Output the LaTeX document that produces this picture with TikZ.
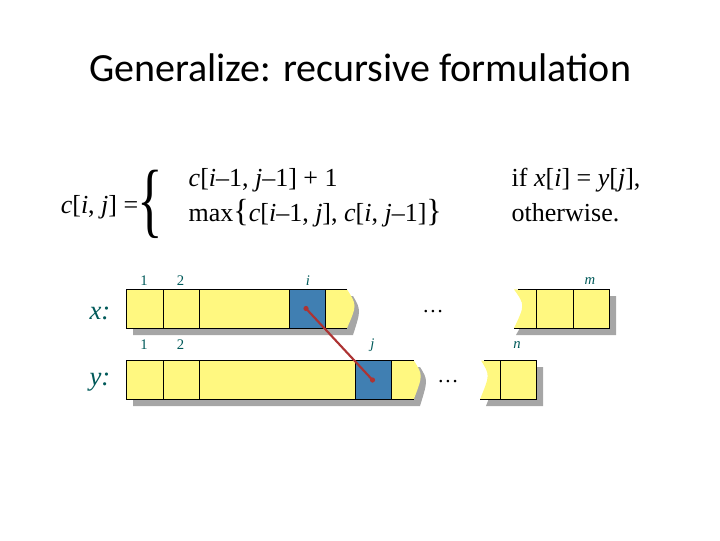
\documentclass[tikz,border=0pt]{standalone}
\usepackage{fontspec}
\setmainfont{Liberation Serif}
\newfontfamily\titlefont{Carlito}
\begin{document}
\begin{tikzpicture}[x=0.75pt,y=-0.75pt,
  lab/.style={text=teal!70!black,font=\fontsize{11}{12}\selectfont},
  arr/.style={text=teal!70!black,font=\itshape\fontsize{20}{22}\selectfont},
  body/.style={font=\fontsize{19.5}{22}\selectfont,anchor=west},
  yel/.style={fill=yellow!50},
  sh/.style={fill=gray!70}]
\useasboundingbox (0,0) rectangle (720,540);
\node[font=\titlefont\fontsize{30}{34}\selectfont] (title) at (360,68) {Generalize: recursive formulation};
\node[body,anchor=east] (lhs) at (143,207) {\textit{c}[\textit{i}, \textit{j}] =};
\node (br) at (150,204) {\scalebox{1}[1.55]{\fontsize{40}{40}\selectfont\{}};
\node[body] (l1) at (184,180) {\textit{c}[\textit{i}–1, \textit{j}–1] + 1};
\node[body] (l2) at (184,213) {max{\fontsize{24}{24}\selectfont\{}\textit{c}[\textit{i}–1, \textit{j}], \textit{c}[\textit{i}, \textit{j}–1]{\fontsize{24}{24}\selectfont\}}};
\node[body] (c1) at (507,180) {if \textit{x}[\textit{i}] = \textit{y}[\textit{j}],};
\node[body] (c2) at (507,213) {otherwise.};
% x array
\fill[sh] (133,296) -- (353,296) .. controls (361,310) .. (353,335) -- (133,335) -- cycle;
\fill[sh] (520,296) .. controls (530,310) .. (516,335) -- (616,335) -- (616,296) -- cycle;
\fill[yel] (126.7,289.4) -- (347,289.4) .. controls (357,305) .. (347,328.2) -- (126.7,328.2) -- cycle;
\fill[yel] (514,289.4) .. controls (525,305) .. (514,328.2) -- (609.4,328.2) -- (609.4,289.4) -- cycle;
\filldraw[fill=blue!45!cyan!60!black!75] (289.6,289.4) rectangle (325.5,328.2);
\draw (347,289.4) -- (126.7,289.4) -- (126.7,328.2) -- (347,328.2);
\draw (163.3,289.4) -- (163.3,328.2) (199.2,289.4) -- (199.2,328.2);
\draw (518,289.4) -- (609.4,289.4) -- (609.4,328.2) -- (514,328.2);
\draw (536.6,289.4) -- (536.6,328.2) (572.8,289.4) -- (572.8,328.2);
% y array
\fill[sh] (133,367) -- (420,367) .. controls (428,380) .. (420,406) -- (133,406) -- cycle;
\fill[sh] (487,367) .. controls (496,380) .. (486,406) -- (543,406) -- (543,367) -- cycle;
\fill[yel] (126.7,360.5) -- (413.8,360.5) .. controls (423,375) .. (413.8,399.3) -- (126.7,399.3) -- cycle;
\fill[yel] (481,360.5) .. controls (490,375) .. (480,399.3) -- (536.6,399.3) -- (536.6,360.5) -- cycle;
\filldraw[fill=blue!45!cyan!60!black!75] (355.7,360.5) rectangle (391.6,399.3);
\draw (413.8,360.5) -- (126.7,360.5) -- (126.7,399.3) -- (413.8,399.3);
\draw (163.3,360.5) -- (163.3,399.3) (199.2,360.5) -- (199.2,399.3);
\draw (484,360.5) -- (536.6,360.5) -- (536.6,399.3) -- (480,399.3);
\draw (500.7,360.5) -- (500.7,399.3);
% labels
\node[arr] (xl) at (100,313) {x:};
\node[arr] (yl) at (100,382) {y:};
\node[lab] (x1) at (144,281) {1};
\node[lab] (x2) at (180.5,281) {2};
\node[lab,font=\itshape\fontsize{11}{12}\selectfont] (xi) at (308,281) {i};
\node[lab,font=\itshape\fontsize{11}{12}\selectfont] (xm) at (590,281) {m};
\node[lab] (y1) at (144,345) {1};
\node[lab] (y2) at (180.5,345) {2};
\node[lab,font=\itshape\fontsize{11}{12}\selectfont] (yj) at (372.5,345) {j};
\node[lab,font=\itshape\fontsize{11}{12}\selectfont] (yn) at (517,345) {n};
\node[font=\fontsize{16}{18}\selectfont] (d1) at (433,312) {\dots};
\node[font=\fontsize{16}{18}\selectfont] (d2) at (448,382) {\dots};
\coordinate (pi) at (306,308.5);
\coordinate (pj) at (372.5,380);
\draw[line width=1.6pt,red!60!black!80] (pi) -- (pj);
\fill[red!60!black!80] (pi) circle (2.6) (pj) circle (2.6);
\end{tikzpicture}
\end{document}
